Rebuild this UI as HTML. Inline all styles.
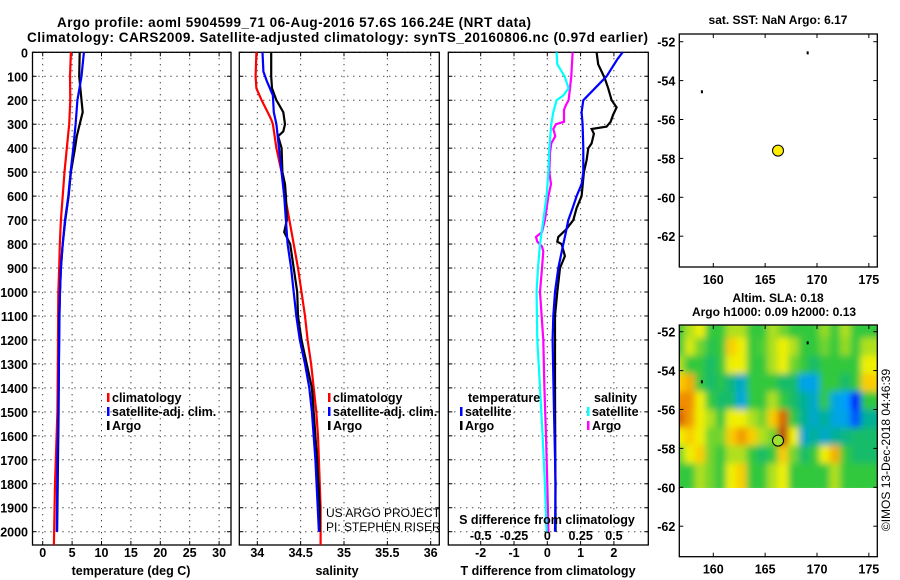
<!DOCTYPE html>
<html><head><meta charset="utf-8"><style>
html,body{margin:0;padding:0;background:#fff;}
svg{display:block;font-family:"Liberation Sans",sans-serif;font-weight:bold;}
</style></head><body>
<svg id="c" width="900" height="580" viewBox="0 0 900 580" xmlns="http://www.w3.org/2000/svg">
<defs>
<filter id="blur" x="0" y="0" width="1" height="1"><feGaussianBlur stdDeviation="3.5"/></filter>
<clipPath id="mapclip"><rect x="679.3" y="325" width="198" height="163"/></clipPath>
</defs>
<text x="57" y="27" font-size="13.5" textLength="474">Argo profile: aoml 5904599_71 06-Aug-2016 57.6S 166.24E (NRT data)</text>
<text x="27" y="42" font-size="13.5" textLength="621">Climatology: CARS2009. Satellite-adjusted climatology: synTS_20160806.nc (0.97d earlier)</text>
<g id="g"></g>
</svg>
<script>
// ---------- data ----------
const depthTicks=[0,100,200,300,400,500,600,700,800,900,1000,1100,1200,1300,1400,1500,1600,1700,1800,1900,2000];
const tTicks=[0,5,10,15,20,25,30];
const sTicks=[34,34.5,35,35.5,36];
const sTickLabels=["34","34.5","35","35.5","36"];
const dTTicks=[-2,-1,0,1,2];
const dSTicks=[-0.5,-0.25,0,0.25,0.5];
const dSTickLabels=["-0.5","-0.25","0","0.25","0.5"];

const tArgoDepth=[0,100,200,250,300,350,400,500,600,700,800,900,1000,1100,1300,1500,1700,2000];
const tArgo=[6.3,6.2,6.6,6.8,6.3,5.8,5.5,4.8,4.4,3.85,3.4,3.1,2.95,2.8,2.75,2.7,2.6,2.45];
const tSatDepth=[0,100,200,300,400,500,600,700,800,900,1000,1100,1300,1500,1700,2000];
const tSat=[7.0,6.6,5.9,5.6,5.2,4.75,4.35,3.8,3.4,3.1,2.95,2.85,2.75,2.65,2.5,2.4];
const tClimDepth=[0,100,200,300,400,500,600,700,800,900,1000,1200,1500,1800,2055];
const tClim=[4.8,4.65,4.7,4.5,4.1,3.7,3.4,3.1,2.9,2.8,2.65,2.6,2.5,2.1,1.9];

const sArgoDepth=[0,100,150,200,250,300,330,350,400,500,550,600,700,750,800,900,1000,1100,1200,1300,1400,1500,1700,1900,2000];
const sArgo=[34.16,34.16,34.17,34.22,34.30,34.32,34.30,34.24,34.28,34.29,34.32,34.33,34.34,34.31,34.38,34.42,34.46,34.47,34.51,34.57,34.63,34.65,34.69,34.72,34.72];
const sSatDepth=[0,80,120,180,250,300,400,500,600,700,800,900,1000,1100,1200,1300,1400,1500,1700,2000];
const sSat=[34.06,34.07,34.11,34.18,34.19,34.22,34.25,34.28,34.31,34.33,34.35,34.39,34.42,34.45,34.49,34.55,34.60,34.63,34.67,34.71];
const sClimDepth=[0,100,150,200,250,280,300,400,500,600,700,800,900,1000,1100,1200,1300,1400,1500,1600,1700,1900,2055];
const sClim=[33.99,33.98,33.99,34.05,34.12,34.16,34.18,34.22,34.28,34.32,34.37,34.42,34.47,34.51,34.55,34.58,34.62,34.65,34.68,34.70,34.71,34.73,34.73];

const dTSatDepth=[0,30,100,150,200,250,300,400,500,550,600,650,700,750,800,900,1000,1100,1200,1500,1800,2000];
const dTSat=[2.26,2.1,1.78,1.43,1.08,1.03,1.06,1.08,1.08,1.03,0.88,0.76,0.63,0.56,0.48,0.33,0.23,0.18,0.16,0.2,0.25,0.23];
const dTArgoDepth=[0,50,80,110,150,200,230,260,290,310,320,340,380,400,450,500,600,650,700,740,770,790,800,850,900,1000,1100,1400,2000];
const dTArgo=[1.48,1.53,1.63,1.73,1.83,1.93,2.08,1.98,1.9,1.78,1.33,1.4,1.33,1.23,1.18,1.1,1.03,0.88,0.78,0.56,0.33,0.3,0.43,0.53,0.38,0.3,0.23,0.23,0.25];
const dSSatDepth=[0,50,100,150,180,200,250,300,400,500,600,700,800,900,1000,1200,1400,1600,1800,2000];
const dSSat=[0.07,0.075,0.13,0.16,0.12,0.07,0.045,0.03,0.015,0.008,-0.005,-0.03,-0.055,-0.07,-0.08,-0.075,-0.055,-0.035,-0.018,-0.005];
const dSArgoDepth=[0,100,150,200,220,240,290,300,320,350,380,420,500,550,600,700,750,770,790,810,830,900,1000,1200,1400,1600,1800,2000];
const dSArgo=[0.19,0.18,0.17,0.16,0.14,0.125,0.125,0.065,0.045,0.06,0.03,0.02,0.015,0.028,0.008,-0.018,-0.04,-0.085,-0.075,-0.04,-0.03,-0.04,-0.055,-0.03,-0.022,-0.01,0,0.008];

const latTicks=[-52,-54,-56,-58,-60,-62];
const lonTicks=[160,165,170,175];
const argoLon=166.24, argoLat=-57.6;
const coastLon=[169.1,158.9], coastLat=[-52.6,-54.6];
const slaLon0=156.8, slaLat0=-51.7;
const slaGrid=[
[3,4,4.5,3,3,4,4,3,3,4,3.5,3,3,3,3.8,3,4,3,3],
[3,4.3,3.5,2.8,3,5,4.5,3,3.2,4,4.5,4,3,3,3.5,3,3.8,3,4],
[4,3,3,2.5,3,4.5,4.5,3,3,4,4.5,3.5,3,2.5,3,3,3,3,4.5],
[5,5.5,3,2.5,2.8,2.3,1.5,3,3,3,2.5,2.5,1.2,1.2,3,3,2.5,3,5],
[6,6,4.5,3,2.5,2.5,1.3,3,3,4,3,2.5,2,1.5,3,1.3,1,0,3],
[6.5,5.8,4.5,4,3,4.5,4.5,4,3.5,5,6.5,3,2,1.5,2,1.3,1.2,0.5,2],
[4.5,5,4.5,3.5,3.5,5,5.8,5,4,3.5,7,4.5,1.5,2,1.5,2,2.2,2.5,2.5],
[3.5,4.5,5,3.5,3,4,4,3,2.5,3,5,3.5,2.5,3,4.5,5.5,3,2.5,2.5],
[3,3,4,3.5,3,4.5,5,3,3,4,4.5,3,3,3,3,4,3,3,3]];

// ---------- geometry ----------
const NS="http://www.w3.org/2000/svg";
const G=document.getElementById('g');
function mk(tag,at,parent){const e=document.createElementNS(NS,tag);for(const k in at)e.setAttribute(k,at[k]);(parent||G).appendChild(e);return e;}
const yTop=52.3, yPer=0.2397;
const yD=d=>yTop+d*yPer;
const yBot=545;
const P1={x0:32.5,x1:231}, P2={x0:239.3,x1:439.3}, P3={x0:448.3,x1:648.3};
const xT=t=>42.7+5.88*t;
const xS=s=>257.3+86.7*(s-34);
const xDT=v=>547.3+33.3*v;
const xDS=v=>547.3+133.3*v;

function panel(P,name){
  const r=mk('rect',{x:P.x0,y:yTop,width:P.x1-P.x0,height:yBot-yTop,fill:'none',stroke:'#000','stroke-width':1.3});
  
  
  depthTicks.forEach(d=>{
    const l=mk('line',{x1:P.x0,x2:P.x1,y1:yD(d),y2:yD(d),stroke:'#000','stroke-width':1,'stroke-dasharray':'1,5'});
    
    
    mk('line',{x1:P.x0,x2:P.x0+4,y1:yD(d),y2:yD(d),stroke:'#000'});
    mk('line',{x1:P.x1-4,x2:P.x1,y1:yD(d),y2:yD(d),stroke:'#000'});
  });
}
function vgrid(P,ticks,fx,labels,name,ly){
  ticks.forEach((t,i)=>{
    const x=fx(t);
    const l=mk('line',{x1:x,x2:x,y1:yTop,y2:yBot,stroke:'#000','stroke-width':1,'stroke-dasharray':'1,5'});
    
    
    mk('line',{x1:x,x2:x,y1:yTop,y2:yTop+4,stroke:'#000'});
    mk('line',{x1:x,x2:x,y1:yBot-4,y2:yBot,stroke:'#000'});
    if(labels){const tx=mk('text',{x:x,y:ly,'font-size':12.5,'text-anchor':'middle'});tx.textContent=labels[i];
      
      }
  });
}
function line(dep,val,fx,color,name){
  const pts=dep.map((d,i)=>fx(val[i]).toFixed(1)+','+yD(d).toFixed(1)).join(' ');
  const p=mk('polyline',{points:pts,fill:'none',stroke:color,'stroke-width':2.2});
  
  
}
function txt(x,y,s,fs,name,anchor){const t=mk('text',{x:x,y:y,'font-size':fs,'text-anchor':anchor||'start'});t.textContent=s;
  
  return t;}
function legend(x,y,color,label,name){
  const r=mk('rect',{x:x,y:y-9,width:2.5,height:9,fill:color});
  
  
  txt(x+5,y,label,12.5,name);
}

// Panel 1 temperature
panel(P1,'temperature-panel');
vgrid(P1,tTicks,xT,tTicks.map(String),'temperature-x',557);
depthTicks.forEach(d=>txt(28,yD(d)+5,String(d),12.5,'depth-tick-label','end'));
line(tClimDepth,tClim,xT,'#ff0000','temperature-climatology-line');
line(tArgoDepth,tArgo,xT,'#000000','temperature-argo-line');
line(tSatDepth,tSat,xT,'#0000ff','temperature-satellite-line');
txt(131,575,'temperature (deg C)',12.5,'temperature-axis-title','middle');
legend(107,402,'#ff0000','climatology','temperature-legend-climatology');
legend(107,416,'#0000ff','satellite-adj. clim.','temperature-legend-satellite');
legend(107,430,'#000000','Argo','temperature-legend-argo');

// Panel 2 salinity
panel(P2,'salinity-panel');
vgrid(P2,sTicks,xS,sTickLabels,'salinity-x',557);
line(sClimDepth,sClim,xS,'#ff0000','salinity-climatology-line');
line(sArgoDepth,sArgo,xS,'#000000','salinity-argo-line');
line(sSatDepth,sSat,xS,'#0000ff','salinity-satellite-line');
txt(337,575,'salinity',12.5,'salinity-axis-title','middle');
legend(328,402,'#ff0000','climatology','salinity-legend-climatology');
legend(328,416,'#0000ff','satellite-adj. clim.','salinity-legend-satellite');
legend(328,430,'#000000','Argo','salinity-legend-argo');
const c1=txt(326,517,'US ARGO PROJECT',12,'project-credit');c1.setAttribute('font-weight','normal');
const c2=txt(326,531,'PI: STEPHEN RISER',12,'pi-credit');c2.setAttribute('font-weight','normal');

// Panel 3 differences
panel(P3,'difference-panel');
vgrid(P3,dTTicks,xDT,dTTicks.map(String),'t-difference-x',557);
dSTicks.forEach((s,i)=>txt(xDS(s),540,dSTickLabels[i],12.5,'s-difference-tick-label','middle'));
line(dTArgoDepth,dTArgo,xDT,'#000000','t-difference-argo-line');
line(dTSatDepth,dTSat,xDT,'#0000ff','t-difference-satellite-line');
line(dSArgoDepth,dSArgo,xDS,'#ff00ff','s-difference-argo-line');
line(dSSatDepth,dSSat,xDS,'#00ffff','s-difference-satellite-line');
txt(547,524,'S difference from climatology',12.5,'s-difference-axis-title','middle');
txt(548,575,'T difference from climatology',12.5,'t-difference-axis-title','middle');
txt(468,402,'temperature',12.5,'legend-temperature-heading');
legend(460,416,'#0000ff','satellite','t-difference-legend-satellite');
legend(460,430,'#000000','Argo','t-difference-legend-argo');
txt(594,402,'salinity',12.5,'legend-salinity-heading');
legend(587,416,'#00ffff','satellite','s-difference-legend-satellite');
legend(587,430,'#ff00ff','Argo','s-difference-legend-argo');

// Maps
const mX0=679.3,mX1=877.3;
const xL=lon=>713.3+10.37*(lon-160);
function map(top,bot,lat52,name){
  const yLat=lat=>lat52+19.45*(-52-lat);
  const r=mk('rect',{x:mX0,y:top,width:mX1-mX0,height:bot-top,fill:'none',stroke:'#000','stroke-width':1.3});
  
  
  latTicks.forEach(l=>{const y=yLat(l);
    mk('line',{x1:mX0,x2:mX0+4,y1:y,y2:y,stroke:'#000'});mk('line',{x1:mX1-4,x2:mX1,y1:y,y2:y,stroke:'#000'});
    txt(mX0-4,y+5,String(l),12.5,name+'-lat-label','end');});
  lonTicks.forEach(l=>{const x=xL(l);
    mk('line',{x1:x,x2:x,y1:top,y2:top+4,stroke:'#000'});mk('line',{x1:x,x2:x,y1:bot-4,y2:bot,stroke:'#000'});
    txt(x,bot+17,String(l),12.5,name+'-lon-label','middle');});
  coastLon.forEach((lo,i)=>{const c=mk('rect',{x:xL(lo)-1,y:yLat(coastLat[i])-2,width:2,height:3,fill:'#000'});
    
    });
  return yLat;
}
txt(778,24,'sat. SST: NaN Argo: 6.17',12,'sst-map-title','middle');
const yA=map(34,267,41.7,'sst-map');
const d1=mk('circle',{cx:xL(argoLon),cy:yA(argoLat),r:5.5,fill:'#ffee00',stroke:'#000','stroke-width':1});



txt(778,302,'Altim. SLA: 0.18',12,'sla-map-title','middle');
txt(774,316,'Argo h1000: 0.09 h2000: 0.13',12,'sla-map-subtitle','middle');
const yB=lat=>331.7+19.45*(-52-lat);
function col(v){
  const stops=[[0,[0,0,255]],[1,[0,160,255]],[2,[0,176,150]],[3,[50,200,60]],[4,[176,224,30]],[4.5,[240,240,0]],[5,[250,205,0]],[6,[240,140,0]],[7,[190,60,10]]];
  for(let i=1;i<stops.length;i++){if(v<=stops[i][0]){const a=stops[i-1],b=stops[i],f=(v-a[0])/(b[0]-a[0]);
    return 'rgb('+a[1].map((c,k)=>Math.round(c+(b[1][k]-c)*f)).join(',')+')';}}
  return 'rgb(190,60,10)';
}
const hm=mk('g',{'clip-path':'url(#mapclip)'});


const hb=mk('g',{filter:'url(#blur)'},hm);
const nR=slaGrid.length;
const latStep=(60-51.7)/nR;
slaGrid.forEach((row,ri)=>row.forEach((v,ci)=>{
  const la=slaLat0-latStep*ri;
  const x=xL(slaLon0+ci), y=yB(la);
  const cell=mk('rect',{x:x-6,y:y-6,width:10.37+12,height:19.45*latStep+12,fill:col(v)},hb);
  
  
}));
map(325,556.7,331.7,'sla-map');
const d2=mk('circle',{cx:xL(argoLon),cy:yB(argoLat),r:5.5,fill:'#a0e030',stroke:'#000','stroke-width':1});


const cp=txt(0,0,'©IMOS 13-Dec-2018 04:46:39',12,'copyright-timestamp','middle');
cp.setAttribute('font-weight','normal');
cp.setAttribute('transform','translate(890,450) rotate(-90)');
</script>
</body></html>
